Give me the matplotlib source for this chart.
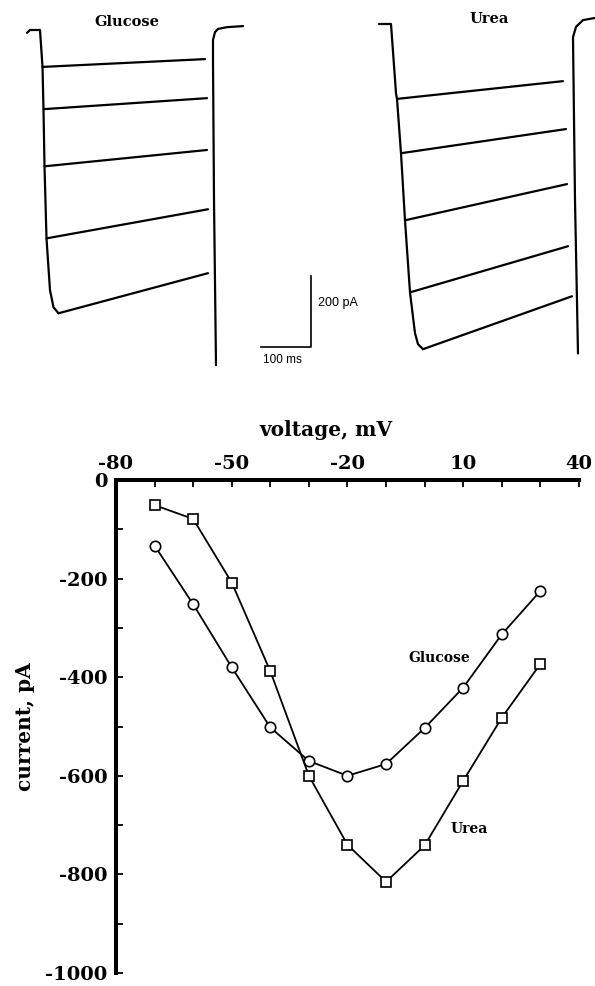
import matplotlib
matplotlib.use("Agg")
import matplotlib.pyplot as plt
from matplotlib.ticker import MultipleLocator, FixedLocator

plt.rcParams['axes.unicode_minus'] = False

# --- I-V data (peak current vs test voltage) ---
voltage = [-70, -60, -50, -40, -30, -20, -10, 0, 10, 20, 30]
glucose_pa = [-133, -252, -380, -502, -570, -600, -576, -503, -421, -313, -225]
urea_pa = [-51, -79, -208, -388, -600, -740, -815, -741, -610, -482, -373]

# --- current traces (t in ms from step onset, I in pA from holding level) ---
# onset envelope: holding level then the fast activation edge
glu_env_t = [-26, -20, 0, 5, 7, 9, 13, 20, 27, 37]
glu_env_i = [-8, 0, 0, -104, -223, -384, -587, -733, -781, -798]
glu_start_t = [5, 7, 9, 13, 37]
glu_start_i = [-104, -223, -384, -587, -798]
glu_end_t = [330, 334, 334, 336, 336]
glu_end_i = [-82, -192, -338, -505, -685]
glu_tail_t = [352, 348, 346, 346, 350, 356, 374, 406]
glu_tail_i = [-944, -479, -85, -28, -6, 3, 8, 11]

urea_env_t = [-24, 0, 10, 12, 20, 28, 38, 48, 54, 64]
urea_env_i = [0, 0, -195, -211, -364, -553, -756, -871, -902, -916]
urea_start_t = [12, 20, 28, 38, 64]
urea_start_i = [-211, -364, -553, -756, -916]
urea_end_t = [344, 350, 352, 354, 362]
urea_end_i = [-161, -296, -451, -626, -767]
urea_tail_t = [374, 368, 364, 370, 384, 408]
urea_tail_i = [-928, -496, -37, -8, 11, 17]

scale_ms = 100
scale_pa = 200

# pixel scale of the trace panel
PX_MS = 2.0
PX_PA = 2.817
W, H = 595, 986

fig = plt.figure(figsize=(W / 100, H / 100), dpi=100)

# ---------- traces ----------
tr = fig.add_axes([0, 1 - 400 / H, 1, 400 / H])
tr.set_xlim(0, W * PX_MS)
tr.set_ylim(-400 * PX_PA, 0)
tr.axis('off')

def draw_panel(t0, i0, env_t, env_i, st_t, st_i, en_t, en_i, tl_t, tl_i):
    kw = dict(color='black', lw=1.6, solid_capstyle='round', solid_joinstyle='round')
    tr.plot([t0 + v for v in env_t], [i0 + v for v in env_i], **kw)
    for a, b, c, d in zip(st_t, st_i, en_t, en_i):
        tr.plot([t0 + a, t0 + c], [i0 + b, i0 + d], **kw)
    tr.plot([t0 + v for v in tl_t], [i0 + v for v in tl_i], **kw)

draw_panel(40 * PX_MS, -30 * PX_PA, glu_env_t, glu_env_i, glu_start_t, glu_start_i,
           glu_end_t, glu_end_i, glu_tail_t, glu_tail_i)
draw_panel(391 * PX_MS, -24 * PX_PA, urea_env_t, urea_env_i, urea_start_t, urea_start_i,
           urea_end_t, urea_end_i, urea_tail_t, urea_tail_i)

tr.text(127 * PX_MS, -22 * PX_PA, 'Glucose', family='DejaVu Serif', weight='bold',
        fontsize=10.5, ha='center', va='center')
tr.text(489 * PX_MS, -19 * PX_PA, 'Urea', family='DejaVu Serif', weight='bold',
        fontsize=10.5, ha='center', va='center')

# scale bar
cx, cy = 311 * PX_MS, -347 * PX_PA
tr.plot([cx - scale_ms, cx, cx], [cy, cy, cy + scale_pa], color='black', lw=1.2)
tr.text(cx + 7 * PX_MS, cy + scale_pa * 0.62, '200 pA', family='Liberation Sans',
        fontsize=9, ha='left', va='center')
tr.text(cx - scale_ms + 4, cy - 13 * PX_PA, '100 ms', family='Liberation Sans',
        fontsize=8.5, ha='left', va='center')

# ---------- I-V plot ----------
left, right, top, bottom = 116, 579, 480, 973
ax = fig.add_axes([left / W, 1 - bottom / H, (right - left) / W, (bottom - top) / H])

ax.plot(voltage, glucose_pa, color='black', lw=1.3, marker='o', ms=7.5,
        mfc='white', mec='black', mew=1.2, clip_on=False, zorder=3)
ax.plot(voltage, urea_pa, color='black', lw=1.3, marker='s', ms=7.5,
        mfc='white', mec='black', mew=1.2, clip_on=False, zorder=3)

ax.set_xlim(-80, 40)
ax.set_ylim(-1000, 0)

for s in ['bottom', 'right']:
    ax.spines[s].set_visible(False)
for s in ['top', 'left']:
    ax.spines[s].set_linewidth(2.9)

ax.xaxis.tick_top()
ax.xaxis.set_major_locator(FixedLocator([-80, -50, -20, 10, 40]))
ax.xaxis.set_minor_locator(MultipleLocator(10))
ax.yaxis.set_major_locator(MultipleLocator(200))
ax.yaxis.set_minor_locator(MultipleLocator(100))
ax.tick_params(which='both', direction='in', length=5, width=1.3)
ax.tick_params(axis='x', pad=5)
ax.tick_params(axis='y', pad=6)

for lab in ax.get_xticklabels() + ax.get_yticklabels():
    lab.set_family('DejaVu Serif')
    lab.set_weight('bold')
    lab.set_fontsize(14)

ax.xaxis.set_label_position('top')
ax.set_xlabel('voltage, mV', family='DejaVu Serif', weight='bold', fontsize=14.5)
ax.xaxis.set_label_coords((326 - left) / (right - left), (bottom - 430) / (bottom - top))
ax.xaxis.label.set_va('center')
ax.set_ylabel('current, pA', family='DejaVu Serif', weight='bold', fontsize=14.5)
ax.yaxis.set_label_coords((25 - left) / (right - left), 0.5)
ax.yaxis.label.set_va('center')

ax.text(3.8, -361, 'Glucose', family='DejaVu Serif', weight='bold', fontsize=10,
        ha='center', va='center')
ax.text(11.5, -708, 'Urea', family='DejaVu Serif', weight='bold', fontsize=10,
        ha='center', va='center')

fig.savefig('out.png', dpi=100)
